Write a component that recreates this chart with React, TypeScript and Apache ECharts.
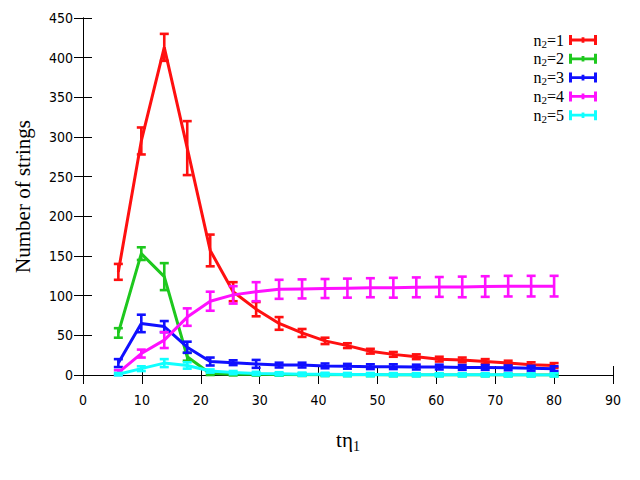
import React, { useEffect, useRef } from "react";
import * as echarts from "echarts";

const xValues = [6.0, 9.9, 13.8, 17.7, 21.6, 25.5, 29.4, 33.3, 37.2, 41.1, 44.9, 48.8, 52.7, 56.6, 60.5, 64.4, 68.3, 72.2, 76.1, 80.0];

const n1Values = [130, 295, 413, 286, 157, 105, 83, 65, 53, 43, 37, 30, 26, 23, 20, 19, 17, 15, 13, 12];
const n1Errors = [10, 17, 17, 34, 20, 12, 9, 8, 5, 4, 3, 3, 3, 3, 3, 3, 3, 3, 3, 3];

const n2Values = [53, 153, 124, 23, 2, 1, 0.8, 0.6, 0.4, 0.3, 0.2, 0.2, 0.1, 0.1, 0.1, 0.1, 0, 0, 0, 0];
const n2Errors = [6, 8, 17, 5, 2, 1.5, 1.5, 1.5, 1.5, 1.5, 1.5, 1.5, 1.5, 1.5, 1.5, 1.5, 1.5, 1.5, 1.5, 1.5];

const n3Values = [15, 65, 61, 35, 17, 15.5, 14, 12.5, 12.5, 11.5, 11, 10.5, 10.5, 10, 10, 9.5, 9.5, 9, 8.5, 8];
const n3Errors = [5, 11, 7, 7, 5, 3, 5, 3, 3, 3, 3, 3, 3, 3, 3, 3, 3, 3, 3, 3];

const n4Values = [3, 27, 44, 73, 93, 101, 105, 108, 108.5, 109, 109.5, 110, 110, 110.5, 111, 111, 111.5, 112, 112, 112];
const n4Errors = [3, 5, 10, 11, 12, 11, 12, 12, 12, 12, 12, 12, 12.5, 12.5, 12.5, 13, 13, 13, 13, 13];

const n5Values = [1, 8, 15, 12, 5, 3, 2, 1.5, 1, 0.8, 0.6, 0.5, 0.4, 0.3, 0.3, 0.2, 0.2, 0.2, 0.1, 0.1];
const n5Errors = [1.5, 3, 5, 4, 2, 2, 2, 2, 2, 2, 2, 2, 2, 2, 2, 2, 2, 2, 2, 2];

const seriesNames = ["n2=1", "n2=2", "n2=3", "n2=4", "n2=5"];
const seriesColors = ["#ff1010", "#1ec81e", "#1010ff", "#ff10ff", "#10ffff"];
const allValues = [n1Values, n2Values, n3Values, n4Values, n5Values];
const allErrors = [n1Errors, n2Errors, n3Errors, n4Errors, n5Errors];

const xTicks = { min: 0, max: 90, interval: 10 };
const yTicks = { min: 0, max: 450, interval: 50 };

const SERIF = "'Liberation Serif', 'DejaVu Serif', 'Times New Roman', serif";
const SANS = "'DejaVu Sans Condensed', 'Liberation Sans Narrow', 'Liberation Sans', 'DejaVu Sans', sans-serif";

export default function App() {
  const ref = useRef<HTMLDivElement>(null);

  useEffect(() => {
    document.body.style.margin = "0";
    if (!ref.current) return;
    const chart = echarts.init(ref.current, undefined, { renderer: "svg" });

    const series: any[] = [];
    seriesNames.forEach((name, si) => {
      const color = seriesColors[si];
      const vals = allValues[si];
      const errs = allErrors[si];
      series.push({
        type: "line",
        name,
        xAxisIndex: 0,
        yAxisIndex: 0,
        data: xValues.map((x, i) => [x, vals[i]]),
        symbol: "none",
        lineStyle: { color, width: 3 },
        itemStyle: { color },
        z: 2 + si * 0.01,
      });
      series.push({
        type: "custom",
        name: name + " err",
        xAxisIndex: 0,
        yAxisIndex: 0,
        data: xValues.map((x, i) => [x, vals[i], errs[i]]),
        z: 2 + si * 0.01 + 0.005,
        renderItem: (params: any, api: any) => {
          const x = api.value(0);
          const y = api.value(1);
          const e = api.value(2);
          const top = api.coord([x, y + e]);
          const bot = api.coord([x, y - e]);
          const h = 4.5;
          const style = { stroke: color, lineWidth: 2.6 };
          return {
            type: "group",
            children: [
              { type: "line", shape: { x1: top[0], y1: top[1], x2: bot[0], y2: bot[1] }, style },
              { type: "line", shape: { x1: top[0] - h, y1: top[1], x2: top[0] + h, y2: top[1] }, style },
              { type: "line", shape: { x1: bot[0] - h, y1: bot[1], x2: bot[0] + h, y2: bot[1] }, style },
            ],
          };
        },
      });
    });

    const axisCommon = {
      axisLine: { show: true, lineStyle: { color: "#000", width: 1 } },
      axisTick: { show: true, inside: true, length: 9, lineStyle: { color: "#000", width: 1 } },
      splitLine: { show: false },
    };

    chart.setOption({
      animation: false,
      grid: { left: 83, right: 27, top: 18, bottom: 105, containLabel: false },
      legend: {
        orient: "vertical",
        right: 38,
        top: 27,
        align: "right",
        itemWidth: 28,
        itemHeight: 10,
        itemGap: 1.8,
        itemTextGap: 6,
        selectedMode: false,
        icon: "path://M0,0H3V10H0Z M25,0H28V10H25Z M0,3.6H28V6.4H0Z M12.6,2.2H15.4V7.8H12.6Z",
        data: seriesNames,
        itemStyle: { borderWidth: 0 },
        formatter: (name: string) => {
          const k = name.split("=")[1];
          return `{a|n}{b|2}{a|=${k}}`;
        },
        textStyle: {
          color: "#000",
          rich: {
            a: { fontFamily: SERIF, fontSize: 16, lineHeight: 18, verticalAlign: "middle", color: "#000" },
            b: { fontFamily: SERIF, fontSize: 11, lineHeight: 10, verticalAlign: "bottom", color: "#000" },
          },
        },
      },
      xAxis: [
        {
          type: "value",
          position: "bottom",
          ...xTicks,
          ...axisCommon,
          axisLabel: { show: true, margin: 18, color: "#000", fontFamily: SANS, fontSize: 14 },
          name: "{a|tη}{b|1}",
          nameLocation: "middle",
          nameGap: 52,
          nameTextStyle: {
            rich: {
              a: { fontFamily: SERIF, fontSize: 21, lineHeight: 26, verticalAlign: "middle", color: "#000" },
              b: { fontFamily: SERIF, fontSize: 14, lineHeight: 12, verticalAlign: "bottom", color: "#000" },
            },
          },
        },
        {
          type: "value",
          position: "top",
          ...xTicks,
          ...axisCommon,
          axisLabel: { show: false },
        },
      ],
      yAxis: [
        {
          type: "value",
          position: "left",
          ...yTicks,
          ...axisCommon,
          axisLabel: { show: true, margin: 10, color: "#000", fontFamily: SANS, fontSize: 14 },
          name: "Number of strings",
          nameLocation: "middle",
          nameGap: 50,
          nameTextStyle: { fontFamily: SERIF, fontSize: 21, color: "#000" },
        },
        {
          type: "value",
          position: "right",
          ...yTicks,
          ...axisCommon,
          axisLabel: { show: false },
        },
      ],
      series,
    });

    return () => {
      chart.dispose();
    };
  }, []);

  return <div ref={ref} style={{ width: 640, height: 480, background: "#fff" }} />;
}
